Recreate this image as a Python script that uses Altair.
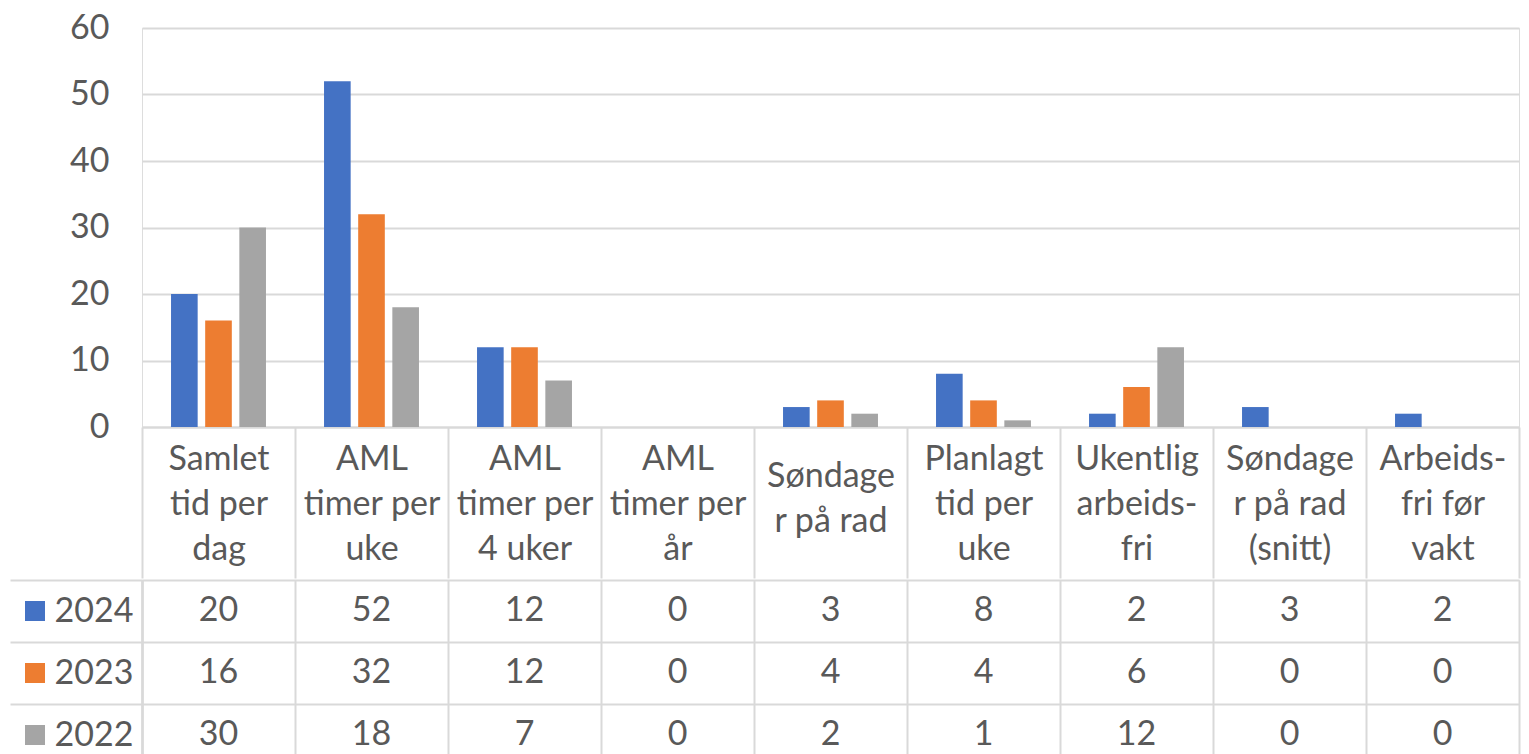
import altair as alt
import pandas as pd

# ---- data ----
categories = [
    "Samlet\ntid per\ndag",
    "AML\ntimer per\nuke",
    "AML\ntimer per\n4 uker",
    "AML\ntimer per\når",
    "Søndage\nr på rad",
    "Planlagt\ntid per\nuke",
    "Ukentlig\narbeids-\nfri",
    "Søndage\nr på rad\n(snitt)",
    "Arbeids-\nfri før\nvakt",
]
years = ["2024", "2023", "2022"]
values_2024 = [20, 52, 12, 0, 3, 8, 2, 3, 2]
values_2023 = [16, 32, 12, 0, 4, 4, 6, 0, 0]
values_2022 = [30, 18, 7, 0, 2, 1, 12, 0, 0]
colors = ["#4472C4", "#ED7D31", "#A5A5A5"]
y_ticks = [0, 10, 20, 30, 40, 50, 60]

rows = []
for yr, vals in zip(years, [values_2024, values_2023, values_2022]):
    for c, v in zip(categories, vals):
        rows.append({"category": c, "year": yr, "value": v})
df = pd.DataFrame(rows)
df_years = pd.DataFrame({"year": years})

# ---- styling ----
FONT = "Lato"
TXT = "#595959"
LINE = "#D9D9D9"
FS = 34
PLOT_W = 1377
LEG_W = 132
BAR_H = 399
HEAD_H = 151
ROW_H = 62

color = alt.Color("year:N", sort=years,
                  scale=alt.Scale(domain=years, range=colors), legend=None)
band = alt.Scale(paddingInner=0, paddingOuter=0)

two_lines = "length(split(datum.value, '\\n')) == 2"

bars = alt.Chart(df).mark_bar().encode(
    x=alt.X("category:N", sort=categories, scale=band,
            axis=alt.Axis(title=None, labelExpr="split(datum.label, '\\n')",
                          labelAngle=0, labelFont=FONT, labelFontSize=FS,
                          labelColor=TXT, labelLineHeight=45,
                          labelBaseline="middle",
                          labelPadding={"condition": {"test": two_lines, "value": -102},
                                        "value": -119},
                          labelLimit=0, labelOverlap=False,
                          ticks=True, tickBand="extent", tickSize=HEAD_H,
                          tickColor=LINE, tickWidth=2,
                          domainColor=LINE, domainWidth=2, grid=False)),
    xOffset=alt.XOffset("year:N", sort=years,
                        scale=alt.Scale(paddingInner=0.22, paddingOuter=0.85)),
    y=alt.Y("value:Q", scale=alt.Scale(domain=[0, 60], nice=False),
            axis=alt.Axis(title=None, values=y_ticks, grid=True,
                          gridColor=LINE, gridWidth=2, domain=False,
                          ticks=False, labelPadding=33, labelFont=FONT,
                          labelFontSize=FS, labelColor=TXT,
                          labelFlush=False, minExtent=LEG_W, maxExtent=LEG_W)),
    color=color,
).properties(width=PLOT_W, height=BAR_H)

# data table: values, with the series key in the left axis area
cells = alt.Chart(df).mark_text(
    font=FONT, fontSize=FS, color=TXT, baseline="middle"
).encode(
    x=alt.X("category:N", sort=categories, scale=band,
            axis=alt.Axis(title=None, grid=True, tickBand="extent", labels=False,
                          ticks=False, domain=False, gridColor=LINE, gridWidth=2)),
    y=alt.Y("year:N", sort=years, scale=band,
            axis=alt.Axis(title=None, orient="left", grid=True, tickBand="extent",
                          gridColor=LINE, gridWidth=2,
                          ticks=True, tickSize=LEG_W, tickColor=LINE, tickWidth=2,
                          domain=True, domainColor=LINE, domainWidth=2,
                          labelFont=FONT, labelFontSize=FS, labelColor=TXT,
                          labelAlign="right", labelPadding=-123,
                          minExtent=LEG_W, maxExtent=LEG_W)),
    text="value:Q",
)

keys = alt.Chart(df_years).mark_square(size=400, opacity=1).encode(
    x=alt.value(-107),
    y=alt.Y("year:N", sort=years, scale=band,
            axis=alt.Axis(title=None, orient="left", grid=False, labels=False,
                          ticks=False, domain=True, domainColor=LINE,
                          domainWidth=2, minExtent=0, maxExtent=0)),
    color=color,
)

table = alt.layer(cells, keys).resolve_scale(y="independent").properties(
    width=PLOT_W, height=ROW_H * 3)

chart = alt.vconcat(bars, table, spacing=-22).resolve_scale(
    x="independent", y="independent"
).properties(
    padding={"left": 0, "top": 2, "right": 0, "bottom": 0}
).configure_view(strokeWidth=0).configure(font=FONT)

chart.save("out.html", embed_options={"renderer": "svg", "actions": False})
